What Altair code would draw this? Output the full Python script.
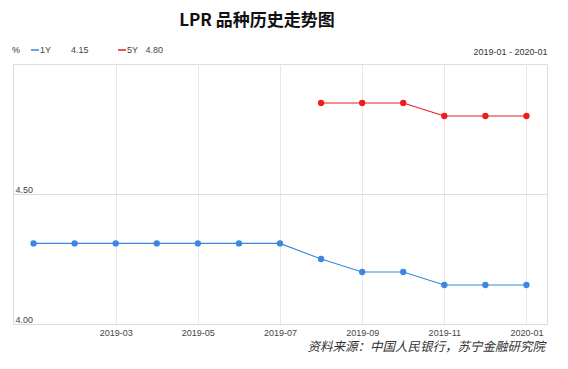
import altair as alt
import pandas as pd

months = ["2019-01", "2019-02", "2019-03", "2019-04", "2019-05", "2019-06", "2019-07",
          "2019-08", "2019-09", "2019-10", "2019-11", "2019-12", "2020-01"]
lpr_1y = [4.31, 4.31, 4.31, 4.31, 4.31, 4.31, 4.31, 4.25, 4.20, 4.20, 4.15, 4.15, 4.15]
months_5y = ["2019-08", "2019-09", "2019-10", "2019-11", "2019-12", "2020-01"]
lpr_5y = [4.85, 4.85, 4.85, 4.80, 4.80, 4.80]
x_ticks = ["2019-03", "2019-05", "2019-07", "2019-09", "2019-11", "2020-01"]
y_ticks = [4.0, 4.5]
series = ["1Y", "5Y"]
colors = ["#3a86e0", "#ee1c1c"]

rows = [{"month": m, "value": v, "series": "1Y"} for m, v in zip(months, lpr_1y)]
rows += [{"month": m, "value": v, "series": "5Y"} for m, v in zip(months_5y, lpr_5y)]
df = pd.DataFrame(rows)

latest = {"1Y": lpr_1y[-1], "5Y": lpr_5y[-1]}
gaps = {"1Y": "\u00a0" * 8, "5Y": "\u00a0" * 3}
label_expr = " : ".join(
    [f"datum.label == '{s}' ? '{s}{gaps[s]}{latest[s]:.2f}'" for s in series]
) + " : datum.label"

FONT = "Liberation Sans"

x = alt.X(
    "month:O",
    scale=alt.Scale(type="point", domain=months, padding=0.5),
    axis=alt.Axis(
        values=x_ticks, labelAngle=0, ticks=False, tickSize=0, domain=False,
        grid=True, gridColor="#e8e8e8", labelPadding=4, labelFontSize=9,
        labelColor="#444", labelFont=FONT,
        title="2019-01 - 2020-01", titleFont=FONT, titleFontSize=9,
        titleFontWeight="normal", titleColor="#333", titleAnchor="end",
        titleAlign="right", titleBaseline="middle", titleX=534, titleY=-273,
    ),
)
y = alt.Y(
    "value:Q",
    scale=alt.Scale(domain=[4.0, 5.0], nice=False, zero=False),
    axis=alt.Axis(
        values=y_ticks, format=".2f", ticks=False, tickSize=0, domain=False,
        grid=True, gridColor="#dddddd", labelAlign="left", labelPadding=-2,
        labelBaseline="alphabetic", labelOffset=-1.5, labelFontSize=9,
        labelColor="#444", labelFont=FONT, labelFlush=False, labelOverlap=False,
        title=None,
    ),
)
color = alt.Color(
    "series:N",
    scale=alt.Scale(domain=series, range=colors),
    legend=alt.Legend(
        orient="none", legendX=-1, legendY=-19, direction="horizontal",
        title="%", titleOrient="left", titleFontSize=9, titleFont=FONT,
        titleFontWeight="normal", titleColor="#333", titlePadding=9,
        symbolType="stroke", symbolSize=64, symbolStrokeWidth=1.5,
        labelFontSize=9, labelFont=FONT, labelColor="#444", labelOffset=0,
        labelExpr=label_expr, columnPadding=26, padding=0,
    ),
)

base = alt.Chart(df)
lines = base.mark_line(strokeWidth=1.1).encode(x=x, y=y, color=color, detail="series:N")
points = base.mark_circle(size=40, opacity=1).encode(
    x=x, y=y, color=alt.Color("series:N", scale=alt.Scale(domain=series, range=colors), legend=None)
)

source = alt.Chart(pd.DataFrame({"t": ["资料来源：中国人民银行，苏宁金融研究院"]})).mark_text(
    align="right", baseline="middle", font="Noto Sans CJK SC", fontSize=12.5,
    fontStyle="italic", color="#333",
).encode(text="t:N", x=alt.value(532), y=alt.value(283))

chart = alt.layer(lines, points, source).properties(
    width=534, height=260,
    title=alt.TitleParams(
        "LPR 品种历史走势图", font="Noto Sans CJK SC", fontSize=17, fontWeight="bold",
        color="#111", anchor="middle", dx=-23, offset=15,
    ),
    autosize=alt.AutoSizeParams(type="none"),
    padding={"left": 5, "top": 56, "right": 13, "bottom": 37},
).configure_view(stroke="#cccccc", strokeWidth=1).configure(background="white")

chart.save("out.html", embed_options={"renderer": "svg", "actions": False})
